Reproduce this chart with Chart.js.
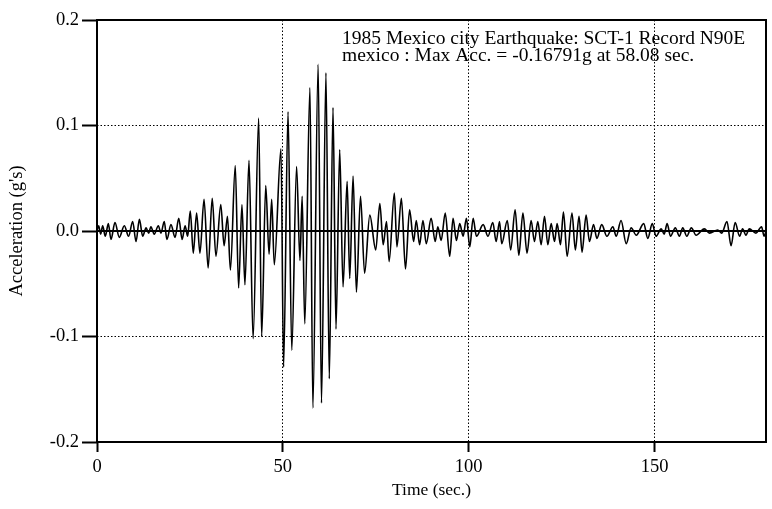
<!DOCTYPE html>
<html>
<head>
<meta charset="utf-8">
<title>SCT-1 N90E</title>
<script src="https://cdn.jsdelivr.net/npm/chart.js@4.4.0/dist/chart.umd.min.js"></script>
<style>
  html, body { margin: 0; padding: 0; background: #fff; }
  #wrap { width: 772px; height: 509px; }
</style>
</head>
<body>
<div id="wrap"><canvas id="graph_sct1" width="772" height="509"></canvas></div>
<script>
/*------------------------------*/
/*     DONNEES ACCELEROGRAMME   */
/*------------------------------*/
// temps (s) des extremums de la trace
var timeSec = [
  0, 0.45, 0.99, 1.52, 2.24, 3.05, 3.76, 4.84, 6.0, 7.35, 8.5, 9.6, 10.5, 11.4, 12.3,
  13.2, 13.9, 14.5, 15.4, 16.5, 17.2, 18.1, 18.8, 19.9, 21.0, 22.0, 22.9, 23.7, 24.4,
  25.1, 25.9, 26.8, 27.7, 28.8, 29.9, 31.0, 32.0, 33.3, 34.2, 35.1, 35.9, 37.2, 38.1,
  39.0, 39.8, 40.9, 42.0, 43.5, 44.3, 45.4, 46.3, 47.0, 47.7, 49.5, 50.2, 51.4, 52.4,
  53.7, 54.6, 55.2, 55.9, 57.3, 58.08, 59.5, 60.4, 61.6, 62.5, 63.5, 64.3, 65.3, 66.2,
  67.3, 68.0, 68.9, 69.8, 70.9, 72.0, 73.4, 75.0, 76.1, 77.0, 77.9, 78.6, 80.0, 80.7,
  81.9, 83.0, 84.1, 85.2, 85.9, 86.8, 87.7, 88.6, 89.9, 91.0, 91.7, 92.6, 93.7, 94.9,
  95.8, 96.7, 97.6, 98.5, 99.4, 100.3, 101.2, 102.1, 103.9, 105.2, 106.5, 107.4, 108.3,
  108.9, 110.4, 111.3, 112.5, 113.5, 114.6, 115.7, 116.8, 117.7, 118.6, 119.5, 120.4,
  121.3, 122.2, 123.1, 123.8, 124.7, 125.5, 126.5, 127.8, 128.7, 129.7, 130.5, 131.6,
  132.5, 133.6, 134.5, 135.8, 137.2, 138.8, 139.7, 141.0, 142.4, 143.7, 145.1, 147.1,
  148.2, 149.4, 150.4, 151.8, 152.6, 153.4, 154.3, 155.6, 156.7, 157.6, 158.7, 159.9,
  161.2, 163.4, 164.8, 167.0, 168.1, 169.5, 170.6, 171.7, 172.9, 173.7, 174.6, 175.5,
  177.3, 178.8, 179.5, 180
]
// acceleration (g) aux memes instants
var accelG = [
  0, 0.005, -0.003, 0.005, -0.005, 0.007, -0.008, 0.008, -0.006, 0.005, -0.005, 0.009, -0.010, 0.011, -0.005,
  0.003, -0.002, 0.004, -0.003, 0.005, -0.002, 0.009, -0.008, 0.006, -0.006, 0.012, -0.008, 0.005, -0.005,
  0.019, -0.021, 0.017, -0.021, 0.030, -0.035, 0.031, -0.024, 0.025, -0.014, 0.014, -0.037, 0.062, -0.054,
  0.025, -0.051, 0.067, -0.102, 0.107, -0.100, 0.043, -0.022, 0.030, -0.032, 0.078, -0.129, 0.113, -0.113,
  0.061, -0.028, 0.033, -0.088, 0.136, -0.16791, 0.158, -0.163, 0.150, -0.140, 0.117, -0.093, 0.077, -0.053,
  0.047, -0.045, 0.052, -0.058, 0.033, -0.040, 0.015, -0.018, 0.026, -0.013, 0.009, -0.029, 0.036, -0.015,
  0.031, -0.036, 0.020, -0.010, 0.010, -0.013, 0.010, -0.012, 0.012, -0.010, 0.004, -0.009, 0.017, -0.024,
  0.012, -0.009, 0.007, -0.005, 0.012, -0.015, 0.012, -0.005, 0.006, -0.005, 0.008, -0.010, 0.009,
  -0.012, 0.010, -0.018, 0.020, -0.023, 0.017, -0.021, 0.010, -0.010, 0.009, -0.013, 0.014,
  -0.013, 0.007, -0.010, 0.007, -0.013, 0.018, -0.024, 0.017, -0.018, 0.014, -0.020, 0.015,
  -0.010, 0.006, -0.007, 0.006, -0.005, 0.004, -0.005, 0.010, -0.012, 0.003, -0.004, 0.007,
  -0.007, 0.007, -0.005, 0.002, -0.003, 0.007, -0.005, 0.003, -0.005, 0.003, -0.005, 0.003,
  -0.004, 0.002, -0.002, 0.001, -0.002, 0.009, -0.014, 0.008, -0.005, 0.002, -0.004, 0.002,
  -0.002, 0.004, -0.005, 0
]
var yTicksShown = [-0.2, -0.1, 0.0, 0.1, 0.2]
var xTicksShown = [0, 50, 100, 150]
var titleLines = [
  '1985 Mexico city Earthquake: SCT-1 Record N90E',
  'mexico : Max Acc. = -0.16791g at 58.08 sec.'
]

var serif = '"Liberation Serif", "DejaVu Serif", serif'

/*------------------------------*/
/*     TRACE + CADRE            */
/*------------------------------*/
var points_sct1 = timeSec.map(function (t, i) { return { x: t, y: accelG[i] } })

// ligne du zero, cadre et texte du titre
var cadre_sct1 = {
  id: 'cadre_sct1',
  beforeDatasetsDraw: function (chart) {
    var c = chart.ctx, a = chart.chartArea
    var y0 = chart.scales.y.getPixelForValue(0)
    c.save()
    c.strokeStyle = '#000'
    c.lineWidth = 2
    c.beginPath()
    c.moveTo(a.left, y0)
    c.lineTo(a.right, y0)
    c.stroke()
    c.restore()
  },
  afterDraw: function (chart) {
    var c = chart.ctx, a = chart.chartArea
    c.save()
    c.strokeStyle = '#000'
    c.lineWidth = 2
    c.strokeRect(a.left, a.top, a.right - a.left, a.bottom - a.top)
    c.fillStyle = '#000'
    c.font = '19.5px ' + serif
    c.textBaseline = 'alphabetic'
    c.fillText(titleLines[0], 342, 44)
    c.fillText(titleLines[1], 342, 61)
    c.restore()
  }
}

var config_sct1 = {
  type: 'line',
  data: {
    datasets: [{
      label: 'SCT-1 N90E',
      data: points_sct1,
      borderColor: '#000',
      borderWidth: 1.6,
      pointRadius: 0,
      fill: false,
      cubicInterpolationMode: 'monotone'
    }]
  },
  options: {
    responsive: false,
    animation: false,
    layout: { padding: { top: 20, right: 6, left: 0, bottom: 0 } },
    plugins: {
      legend: { display: false },
      tooltip: { enabled: false }
    },
    scales: {
      x: {
        type: 'linear',
        min: 0,
        max: 180,
        afterFit: function (s) { s.height = 67 },
        afterBuildTicks: function (s) { s.ticks = xTicksShown.map(function (v) { return { value: v } }) },
        ticks: {
          color: '#000',
          padding: 4,
          font: { family: serif, size: 18.5 },
          callback: function (v) { return String(v) }
        },
        grid: {
          color: function (ctx) { return ctx.tick && ctx.tick.value > 0 ? '#000' : 'rgba(0,0,0,0)' },
          lineWidth: 1,
          tickColor: '#000',
          tickWidth: 2,
          tickLength: 10
        },
        border: { display: false, dash: [1.5, 2] },
        title: {
          display: true,
          text: 'Time (sec.)',
          color: '#000',
          font: { family: serif, size: 17.5 },
          padding: { top: 0, bottom: 8 }
        }
      },
      y: {
        min: -0.2,
        max: 0.2,
        afterFit: function (s) { s.width = 97 },
        afterBuildTicks: function (s) { s.ticks = yTicksShown.map(function (v) { return { value: v } }) },
        ticks: {
          color: '#000',
          padding: 3,
          font: { family: serif, size: 18.5 },
          callback: function (v) { return Number(v).toFixed(1) }
        },
        grid: {
          color: function (ctx) {
            return ctx.tick && Math.abs(Math.abs(ctx.tick.value) - 0.1) < 1e-6 ? '#000' : 'rgba(0,0,0,0)'
          },
          lineWidth: 1,
          tickColor: '#000',
          tickWidth: 2,
          tickLength: 15
        },
        border: { display: false, dash: [1.5, 2] },
        title: {
          display: true,
          text: "Acceleration (g's)",
          color: '#000',
          font: { family: serif, size: 18.5 },
          padding: { top: 6, bottom: 0 }
        }
      }
    }
  },
  plugins: [cadre_sct1]
}

var ctx_sct1 = document.getElementById('graph_sct1').getContext('2d')
var graph_sct1 = new Chart(ctx_sct1, config_sct1)
</script>
</body>
</html>
